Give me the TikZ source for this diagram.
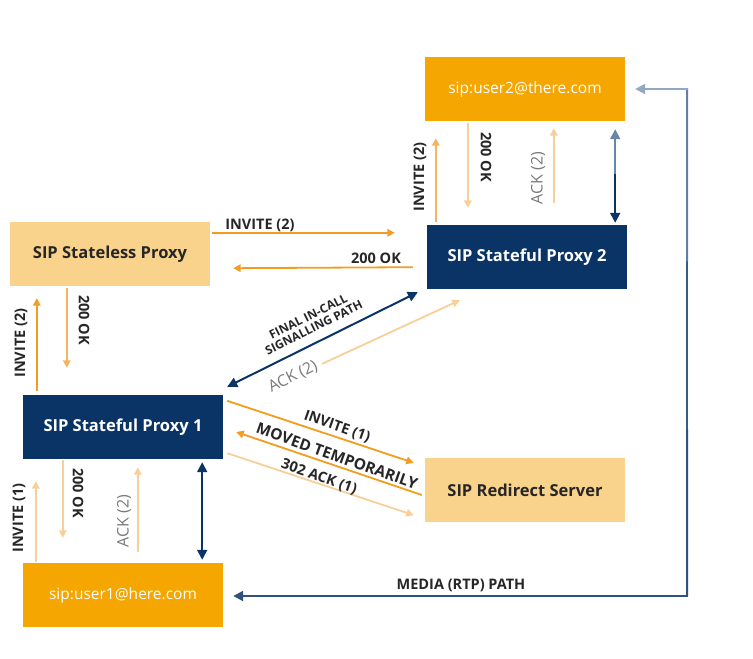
\documentclass[tikz,border=0pt]{standalone}
\usepackage{fontspec}
\setmainfont{Open Sans}
\usetikzlibrary{arrows.meta,calc}

\definecolor{navy}{HTML}{0B3466}
\definecolor{userbox}{HTML}{F5A600}
\definecolor{servbox}{HTML}{F9D38C}
\definecolor{ostrong}{HTML}{F29C22}
\definecolor{omid}{HTML}{F5B560}
\definecolor{olight}{HTML}{F8CF98}
\definecolor{ackgray}{HTML}{7A7A7A}
\definecolor{mediatop}{HTML}{A9BCD0}

\tikzset{
  box/.style={minimum width=200pt, minimum height=64pt, inner sep=0pt,
              font=\fontsize{16.5}{19}\selectfont\bfseries},
  userb/.style={box, fill=userbox, text=white, font=\fontsize{15.5}{18}\selectfont},
  proxyb/.style={box, fill=navy, text=white},
  servb/.style={box, fill=servbox, text=black!85},
  msg/.style={font=\fontsize{14.5}{17}\selectfont\bfseries, text=black!85, inner sep=0pt},
  ackmsg/.style={font=\fontsize{16}{18}\selectfont, text=ackgray, inner sep=0pt},
  tip/.style={-{Triangle[length=7.5pt,width=7.5pt]}},
  oarr/.style={tip, line width=1.8pt, draw=ostrong},
  marr/.style={tip, line width=1.8pt, draw=omid},
  larr/.style={tip, line width=1.8pt, draw=olight},
  narr/.style={{Triangle[length=10pt,width=10pt]}-{Triangle[length=10pt,width=10pt]},
               line width=2pt, draw=navy},
}

\begin{document}
\begin{tikzpicture}[x=1pt, y=-1pt]
\useasboundingbox (0,0) rectangle (753,659);

% entities
\node[userb]  (user2)     at (525,89)  {sip:user2@there.com};
\node[proxyb] (proxy2)    at (527,257) {SIP Stateful Proxy 2};
\node[servb]  (stateless) at (110,254) {SIP Stateless Proxy};
\node[proxyb] (proxy1)    at (123,427) {SIP Stateful Proxy 1};
\node[servb]  (redirect)  at (525,490) {SIP Redirect Server};
\node[userb]  (user1)     at (123,595) {sip:user1@here.com};

% user2 <-> proxy 2
\draw[marr] ($(proxy2.north west)+(9,-3)$) -- ($(user2.south west)+(11,17)$);
\draw[larr] ($(user2.south west)+(43,2)$) -- ($(proxy2.north west)+(41,-17)$);
\draw[larr] ($(proxy2.north west)+(127,-22)$) -- ($(user2.south west)+(129,7)$);
\draw[{Triangle[length=10pt,width=10pt]}-, line width=2pt, draw=mediatop!60!navy]
  ($(user2.south east)+(-10,8)$) -- ($(user2.south east)+(-10,55)$);
\draw[-{Triangle[length=10pt,width=10pt]}, line width=2pt, draw=navy]
  ($(user2.south east)+(-10,53)$) -- ($(proxy2.north east)+(-12,-2)$);
\node[msg, rotate=90]     (l1) at (420,177) {INVITE (2)};
\node[msg, rotate=-90]    (l2) at (486,157) {200 OK};
\node[ackmsg, rotate=90]  (l3) at (538,178) {ACK (2)};

% stateless proxy <-> proxy 2
\draw[oarr] ($(stateless.north east)+(2,11)$) -- ($(proxy2.north west)+(-32,8)$);
\draw[oarr] ($(proxy2.south west)+(-14,-22)$) -- ($(stateless.south east)+(23,-18)$);
\node[msg] (l4) at (260,225) {INVITE (2)};
\node[msg] (l5) at (376,258) {200 OK};

% proxy 1 <-> stateless proxy
\draw[oarr] ($(proxy1.north west)+(14,-4)$) -- ($(stateless.south west)+(27,12)$);
\draw[marr] ($(stateless.south west)+(57,2)$) -- ($(proxy1.north west)+(44,-27)$);
\node[msg, rotate=90]  (l6) at (21,343) {INVITE (2)};
\node[msg, rotate=-90] (l7) at (84,320) {200 OK};

% proxy 1 <-> proxy 2
\draw[narr] ($(proxy1.north east)+(4,-8)$) -- ($(proxy2.south west)+(-9,3)$);
\node[font=\fontsize{12}{12.5}\selectfont\bfseries, text=black!85, rotate=26.5,
      align=center, inner sep=0pt] (l8) at (311,322) {FINAL IN-CALL\\SIGNALLING PATH};
\coordinate (ackstart) at ($(proxy1.north east)+(99,-31)$);
\draw[larr] (ackstart) -- ($(proxy2.south west)+(33,11)$);
\node[ackmsg, rotate=26.5] (l9) at (293,377) {ACK (2)};

% proxy 1 <-> redirect server
\draw[oarr] ($(proxy1.north east)+(4,6)$) -- ($(redirect.north west)+(-11,5)$);
\draw[oarr] ($(redirect.west)+(-3,5)$) -- ($(proxy1.east)+(13,5)$);
\draw[larr] ($(proxy1.south east)+(4,-6)$) -- ($(redirect.south west)+(-11,-7)$);
\node[msg, rotate=-19.5] (l10) at (337,427) {INVITE (1)};
\node[msg, font=\fontsize{15.5}{17}\selectfont\bfseries, rotate=-19.5]
     (l11) at (337,456) {MOVED TEMPORARILY};
\node[msg, rotate=-19.5] (l12) at (319,477) {302 ACK (1)};

% user1 <-> proxy 1
\draw[larr] ($(user1.north west)+(13,-1)$) -- ($(proxy1.south west)+(13,22)$);
\draw[larr] ($(proxy1.south west)+(40,1)$) -- ($(user1.north west)+(40,-25)$);
\draw[larr] ($(user1.north west)+(115,-11)$) -- ($(proxy1.south west)+(115,8)$);
\draw[narr] ($(proxy1.south east)+(-21,3)$) -- ($(user1.north east)+(-21,-3)$);
\node[msg, rotate=90]    (l13) at (19,518) {INVITE (1)};
\node[msg, rotate=-90]   (l14) at (78,493) {200 OK};
\node[ackmsg, rotate=90] (l15) at (124,521) {ACK (2)};

% media path
\coordinate (m1) at ($(user1.east)+(464,1)$);
\coordinate (m2) at ($(user2.east)+(62,0)$);
\coordinate (mq1) at ($(m1)!0.33!(m2)$);
\coordinate (mq2) at ($(m1)!0.66!(m2)$);
\draw[-{Triangle[length=10pt,width=10pt]}, line width=2pt, draw=navy!85]
  ($(m1)+(1,0)$) -- ($(user1.east)+(10,1)$);
\draw[line width=2pt, draw=navy!85] (m1) -- (mq1);
\draw[line width=2pt, draw=navy!70!mediatop] (mq1) -- (mq2);
\draw[line width=2pt, draw=navy!45!mediatop] (mq2) -- ($(m2)+(0,-1)$);
\draw[-{Triangle[length=10pt,width=10pt]}, line width=2pt, draw=mediatop!85!navy]
  ($(m2)+(1,0)$) -- ($(user2.east)+(10,0)$);
\node[msg] (l16) at (461,585) {MEDIA (RTP) PATH};
\end{tikzpicture}
\end{document}
